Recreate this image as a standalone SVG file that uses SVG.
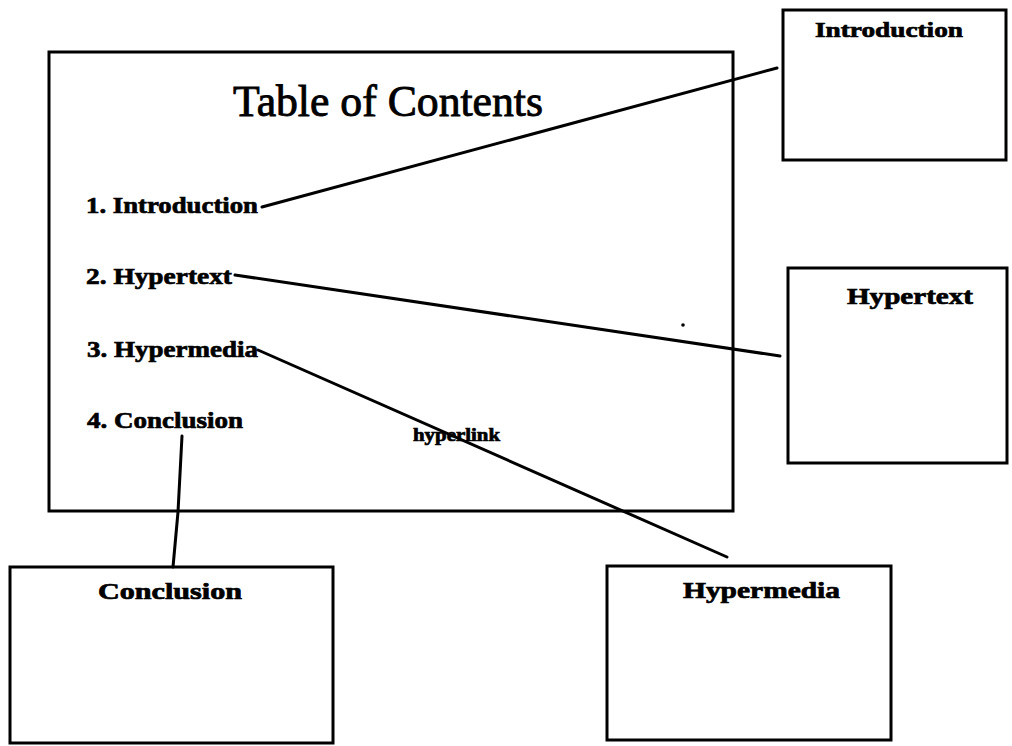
<svg xmlns="http://www.w3.org/2000/svg" width="1012" height="746" viewBox="0 0 1012 746">
<style>
.box{fill:none;stroke:#000;stroke-width:3}
.conn{fill:none;stroke:#000;stroke-width:3;stroke-linecap:round;stroke-linejoin:round}
.t{font-family:"Liberation Serif",serif;font-weight:bold;fill:#000;stroke:#000;stroke-width:0.7}
.title{font-family:"Liberation Serif",serif;font-size:44px;fill:#000;stroke:#000;stroke-width:0.9}
</style>
<rect width="1012" height="746" fill="#fff"/>
<g id="toc">
<rect class="box" x="49" y="52" width="684" height="459"/>
<text class="title" x="233" y="116" textLength="310" lengthAdjust="spacingAndGlyphs">Table of Contents</text>
<text class="t" x="86" y="213" font-size="24" textLength="172" lengthAdjust="spacingAndGlyphs">1. Introduction</text>
<text class="t" x="86" y="284" font-size="24" textLength="146" lengthAdjust="spacingAndGlyphs">2. Hypertext</text>
<text class="t" x="87" y="357" font-size="24" textLength="171" lengthAdjust="spacingAndGlyphs">3. Hypermedia</text>
<text class="t" x="87" y="428" font-size="24" textLength="156" lengthAdjust="spacingAndGlyphs">4. Conclusion</text>
<circle cx="683" cy="325" r="1.8" fill="#000"/>
</g>
<g id="introduction">
<rect class="box" x="783" y="10" width="223" height="150"/>
<text class="t" x="815" y="37" font-size="22" textLength="148" lengthAdjust="spacingAndGlyphs">Introduction</text>
</g>
<g id="hypertext">
<rect class="box" x="788" y="268" width="219" height="195"/>
<text class="t" x="847" y="304" font-size="23" textLength="126" lengthAdjust="spacingAndGlyphs">Hypertext</text>
</g>
<g id="conclusion">
<rect class="box" x="10" y="567" width="323" height="176"/>
<text class="t" x="98" y="599" font-size="23" textLength="144" lengthAdjust="spacingAndGlyphs">Conclusion</text>
</g>
<g id="hypermedia">
<rect class="box" x="607" y="566" width="284" height="174"/>
<text class="t" x="683" y="598" font-size="23" textLength="157" lengthAdjust="spacingAndGlyphs">Hypermedia</text>
</g>
<g id="connectors">
<line class="conn" x1="262" y1="207" x2="777" y2="68"/>
<line class="conn" x1="235" y1="275" x2="780" y2="356"/>
<line class="conn" x1="258" y1="350" x2="727" y2="557"/>
<polyline class="conn" points="182,436 178,512 173,567"/>
<text class="t" x="413" y="441" font-size="18" textLength="87" lengthAdjust="spacingAndGlyphs">hyperlink</text>
</g>
</svg>
